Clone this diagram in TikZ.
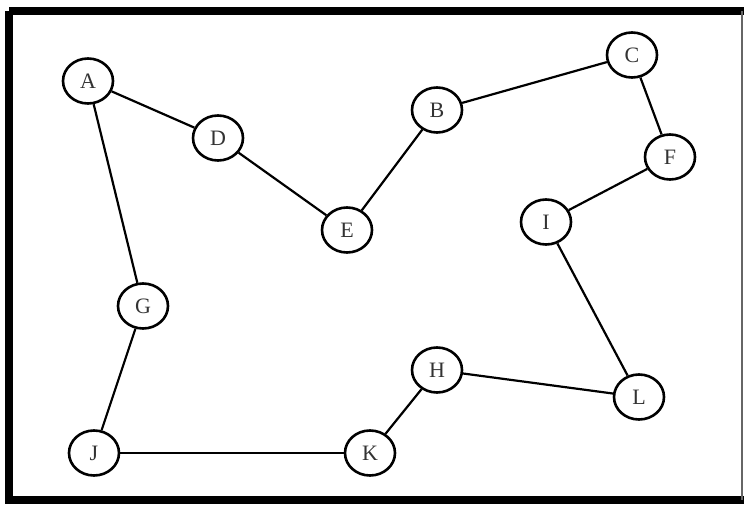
\documentclass[tikz,border=0pt]{standalone}
\usepackage{fontspec}
\setmainfont{Liberation Serif}
\usetikzlibrary{shapes.geometric}

\begin{document}
\begin{tikzpicture}[x=1pt, y=-1pt,
  city/.style={draw, ellipse, line width=2.6pt, minimum width=50pt, minimum height=45pt,
    inner sep=0pt, text=black!80, font=\fontsize{22}{24}\selectfont},
  road/.style={line width=2.2pt}]

\useasboundingbox (0,0) rectangle (744,506);

% Frame
\draw[line width=8.5pt] (9,11) -- (744,11);
\draw[line width=8.5pt] (9,11) -- (9,500) -- (744,500);
\draw[line width=1.5pt, black!60] (742,11) -- (742,500);

% Cities
\node[city] (A) at (88,81)   {A};
\node[city] (D) at (218,138) {D};
\node[city] (E) at (347,230) {E};
\node[city] (B) at (437,110) {B};
\node[city] (C) at (632,55)  {C};
\node[city] (F) at (670,157) {F};
\node[city] (I) at (546,222) {I};
\node[city] (G) at (143,306) {G};
\node[city] (H) at (437,370) {H};
\node[city] (L) at (639,397) {L};
\node[city] (J) at (94,453)  {J};
\node[city] (K) at (370,453) {K};

% Tour
\draw[road] (A) -- (D);
\draw[road] (D) -- (E);
\draw[road] (E) -- (B);
\draw[road] (B) -- (C);
\draw[road] (C) -- (F);
\draw[road] (F) -- (I);
\draw[road] (I) -- (L);
\draw[road] (L) -- (H);
\draw[road] (H) -- (K);
\draw[road] (K) -- (J);
\draw[road] (J) -- (G);
\draw[road] (G) -- (A);

\end{tikzpicture}
\end{document}
